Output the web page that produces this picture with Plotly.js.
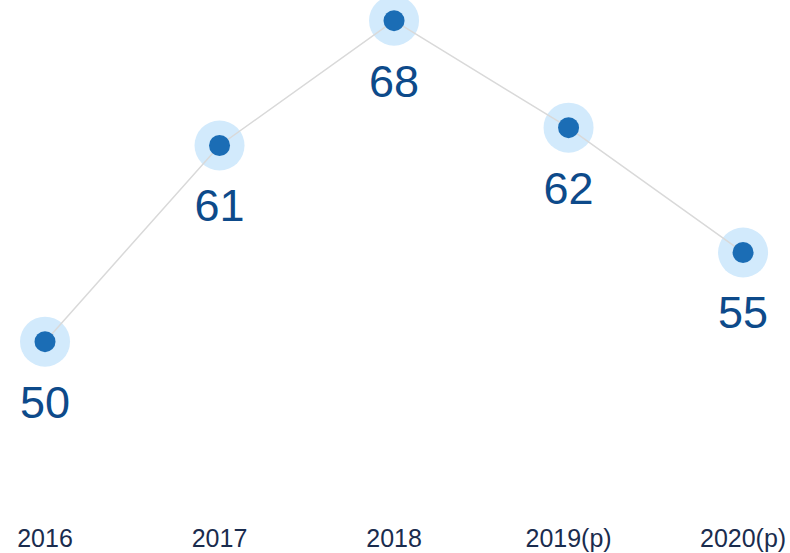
<!DOCTYPE html>
<html>
<head>
<meta charset="utf-8">
<script src="https://cdn.plot.ly/plotly-3.0.1.min.js"></script>
<style>
  html, body { margin: 0; padding: 0; background: #ffffff; }
  #chart { width: 790px; height: 553px; }
</style>
</head>
<body>
<div id="chart"></div>
<script>
// Data
var categories = ["2016", "2017", "2018", "2019(p)", "2020(p)"];
var values = [50, 61, 68, 62, 55];
var labels = ["50", "61", "68", "62", "55"];

var haloTrace = {
  x: categories, y: values, type: "scatter", mode: "markers",
  marker: { size: 50, color: "#d2eafc", line: { width: 0 } },
  hoverinfo: "skip", showlegend: false
};
var lineTrace = {
  x: categories, y: values, type: "scatter", mode: "lines",
  line: { color: "#d9d9d9", width: 1.5 },
  hoverinfo: "skip", showlegend: false
};
var dotTrace = {
  x: categories, y: values, type: "scatter", mode: "markers",
  marker: { size: 21, color: "#1b6db5", line: { width: 0 } },
  showlegend: false
};
var textTrace = {
  x: categories, y: values, type: "scatter", mode: "markers+text",
  text: labels, textposition: "bottom center",
  textfont: { family: "Liberation Sans, Arial, sans-serif", size: 45, color: "#0d4a8a" },
  marker: { size: 66, color: "rgba(0,0,0,0)", line: { width: 0 } },
  hoverinfo: "skip", showlegend: false
};

var layout = {
  width: 790, height: 553,
  margin: { l: 0, r: 0, t: 0, b: 32 },
  paper_bgcolor: "#ffffff", plot_bgcolor: "#ffffff",
  xaxis: {
    type: "category",
    range: [-0.258, 4.269],
    showgrid: false, zeroline: false, showline: false, ticks: "",
    tickfont: { family: "Liberation Sans, Arial, sans-serif", size: 25, color: "#1a2c4e" }
  },
  yaxis: {
    range: [39.94, 69.16],
    showgrid: false, zeroline: false, showline: false, showticklabels: false, ticks: ""
  },
  showlegend: false
};

Plotly.newPlot("chart", [haloTrace, lineTrace, dotTrace, textTrace], layout, { displayModeBar: false, staticPlot: true });
</script>
</body>
</html>
